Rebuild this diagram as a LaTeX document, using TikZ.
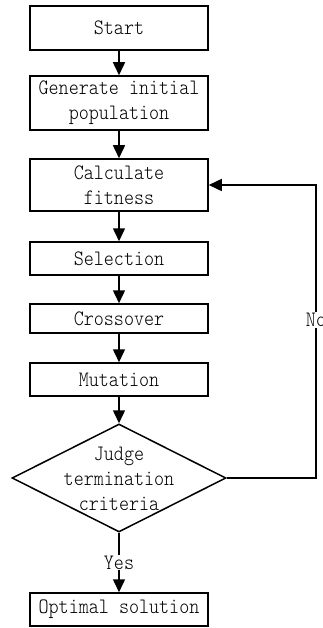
\documentclass[tikz,border=0pt]{standalone}
\usepackage{fontspec}
\newfontfamily\diafont{lmmonolt10-regular.otf}[FakeStretch=0.87]
\usetikzlibrary{arrows.meta,shapes.geometric}
\begin{document}
\begin{tikzpicture}[x=1pt,y=-1pt,
  txt/.style={font=\diafont\fontsize{22}{25}\selectfont, align=center},
  box/.style={txt, draw, line width=1.5pt, minimum width=178pt, inner sep=0pt},
  arr/.style={line width=1.5pt, -{Triangle[length=13pt,width=12pt]}},
  conn/.style={line width=1.5pt},
  lbl/.style={txt, fill=white, inner sep=1pt}]
\useasboundingbox (0,0) rectangle (323,628);
\node[box, minimum height=44pt] (start) at (119,28) {Start};
\node[box, minimum height=54pt] (gen) at (119,103) {Generate initial\\population};
\node[box, minimum height=52pt] (calc) at (119,185) {Calculate\\fitness};
\node[box, minimum height=33pt] (sel) at (119,258.5) {Selection};
\node[box, minimum height=29pt] (cross) at (119,318.5) {Crossover};
\node[box, minimum height=33pt] (mut) at (119,379.5) {Mutation};
\node[diamond, draw, line width=1.5pt, minimum width=214pt, minimum height=108pt, inner sep=0pt] (judge) at (119,478) {};
\node[txt] (judgetxt) at (119,479) {Judge\\termination\\criteria};
\node[box, minimum height=33pt] (opt) at (119,609.5) {Optimal solution};
\coordinate (c1) at (316,478);
\coordinate (c2) at (316,185);
\draw[arr] (start) -- (gen);
\draw[arr] (gen) -- (calc);
\draw[arr] (calc) -- (sel);
\draw[arr] (sel) -- (cross);
\draw[arr] (cross) -- (mut);
\draw[arr] (mut) -- (judge.north);
\draw[arr] (judge.south) -- node[lbl] (yes) {Yes} (opt.north);
\draw[arr] (judge.east) -- (c1) -- (c2) -- (calc.east);
\node[lbl] (no) at (316,320) {No};
\end{tikzpicture}
\end{document}
